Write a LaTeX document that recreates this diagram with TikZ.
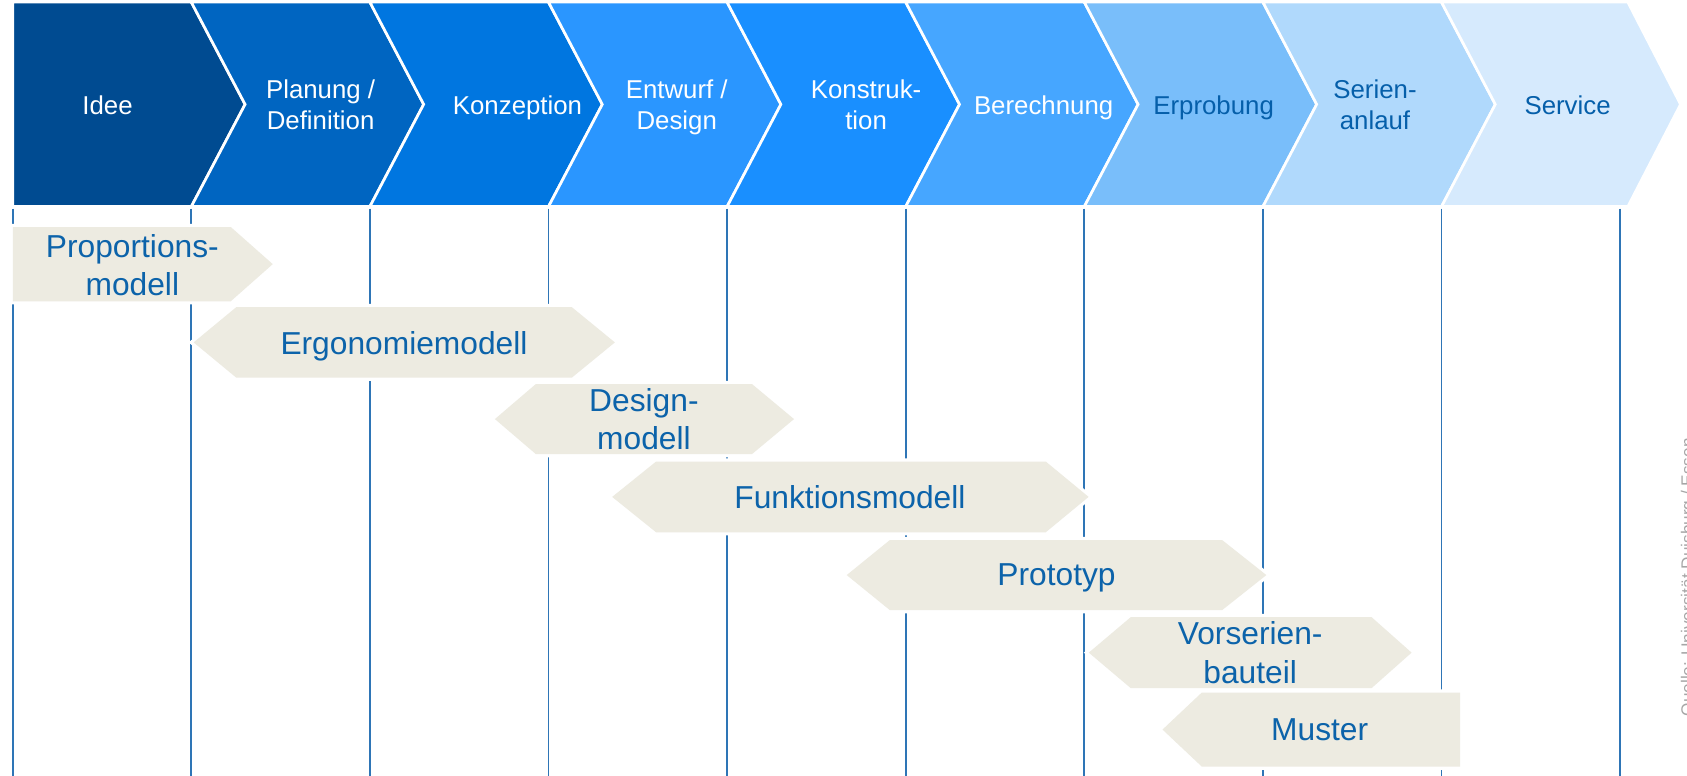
\documentclass[tikz,border=0pt]{standalone}
\usepackage{fontspec}
\setmainfont{Liberation Sans}
\definecolor{c1}{RGB}{0,75,145}
\definecolor{c2}{RGB}{0,101,193}
\definecolor{c3}{RGB}{0,118,224}
\definecolor{c4}{RGB}{42,150,255}
\definecolor{c5}{RGB}{25,143,255}
\definecolor{c6}{RGB}{70,166,255}
\definecolor{c7}{RGB}{121,190,250}
\definecolor{c8}{RGB}{176,217,252}
\definecolor{c9}{RGB}{214,234,253}
\definecolor{gridblue}{RGB}{46,117,182}
\definecolor{tanfill}{RGB}{237,235,225}
\definecolor{txtblue}{RGB}{12,99,170}
\definecolor{hdrblue}{RGB}{5,95,170}
\definecolor{srcgray}{RGB}{166,166,166}
\begin{document}
\begin{tikzpicture}[x=1pt,y=-1pt,
  hdr/.style={font=\fontsize{24}{29}\selectfont, align=center, inner sep=0pt},
  hdrone/.style={hdr, text depth=0pt},
  bar/.style={font=\fontsize{29.5}{36}\selectfont, align=center, inner sep=0pt, text=txtblue},
  barone/.style={bar, text depth=0pt},
  tanshape/.style={fill=tanfill, preaction={draw=white, line width=6pt, line join=miter}},
  gridline/.style={draw=gridblue, line width=1.8pt},
  chev/.style={draw=white, line width=2.5pt, line join=miter}]
\useasboundingbox (0,0) rectangle (1568,720.4);
\clip (0,0) rectangle (1568,720.4);

% header chevrons
\path[chev, fill=c1] (11.8,2) -- (177.8,2) -- (227.8,97) -- (177.8,192) -- (11.8,192) -- cycle;
\foreach \k/\col in {1/c2,2/c3,3/c4,4/c5,5/c6,6/c7,7/c8} {
  \path[chev, fill=\col] ({11.8+166*\k},2) -- ({11.8+166*(\k+1)},2) -- ({61.8+166*(\k+1)},97)
     -- ({11.8+166*(\k+1)},192) -- ({11.8+166*\k},192) -- ({61.8+166*\k},97) -- cycle;
}
\path[chev, fill=c9] (1339.8,2) -- (1513,2) -- (1562,97) -- (1513,192) -- (1339.8,192) -- (1389.8,97) -- cycle;

\node[hdrone, text=white] (idee) at (100,97.5) {Idee};
\node[hdr, text=white] (plan) at (298,97.5) {Planung /\\Definition};
\node[hdrone, text=white] (konz) at (481,97.5) {Konzeption};
\node[hdr, text=white] (entw) at (629,100) {Entwurf /\\Design};
\node[hdr, text=white] (konst) at (805,97.5) {Konstruk-\\tion};
\node[hdrone, text=white] (bere) at (970,97.5) {Berechnung};
\node[hdrone, text=hdrblue] (erpr) at (1128,97.5) {Erprobung};
\node[hdr, text=hdrblue] (seri) at (1278,97.5) {Serien-\\anlauf};
\node[hdrone, text=hdrblue] (serv) at (1457,97.5) {Service};

% vertical phase lines
\foreach \i in {0,...,9} {
  \draw[gridline] ({11.8+166*\i},194) -- ({11.8+166*\i},721);
}

% model bars
\path[tanshape] (12,211) -- (214.5,211) -- (253.5,245.5) -- (214.5,280) -- (12,280) -- cycle;
\path[tanshape] (180,318.25) -- (219.6,285.5) -- (531.5,285.5) -- (571.5,318.25) -- (531.5,351) -- (219.6,351) -- cycle;
\path[tanshape] (460,389.5) -- (498,357) -- (699,357) -- (738,389.5) -- (699,422) -- (498,422) -- cycle;
\path[tanshape] (569,461.85) -- (609.8,429) -- (972,429) -- (1011.8,461.85) -- (972,494.7) -- (609.8,494.7) -- cycle;
\path[tanshape] (787,534.5) -- (827,502) -- (1136,502) -- (1177,534.5) -- (1136,567) -- (827,567) -- cycle;
\path[tanshape] (1012,606.6) -- (1051,573.6) -- (1274.8,573.6) -- (1312,606.6) -- (1274.8,639.6) -- (1051,639.6) -- cycle;
\path[tanshape] (1080.5,678.1) -- (1117,643.7) -- (1357,643.7) -- (1357,712.5) -- (1117,712.5) -- cycle;

\node[bar] (prop) at (123,246.5) {Proportions-\\modell};
\node[barone] (ergo) at (375.5,318.75) {Ergonomiemodell};
\node[bar] (desi) at (598.5,389.5) {Design-\\modell};
\node[barone] (funk) at (790,461.85) {Funktionsmodell};
\node[barone] (prot) at (982,534.5) {Prototyp};
\node[bar] (vors) at (1162,606.6) {Vorserien-\\bauteil};
\node[barone] (must) at (1226.6,678.1) {Muster};

% source note (cut at the right edge, as in the reference)
\node[rotate=90, anchor=north west, inner sep=0pt, text=srcgray, font=\fontsize{16}{19}\selectfont] (src) at (1562,666) {Quelle: Universität Duisburg / Essen};
\end{tikzpicture}
\end{document}
